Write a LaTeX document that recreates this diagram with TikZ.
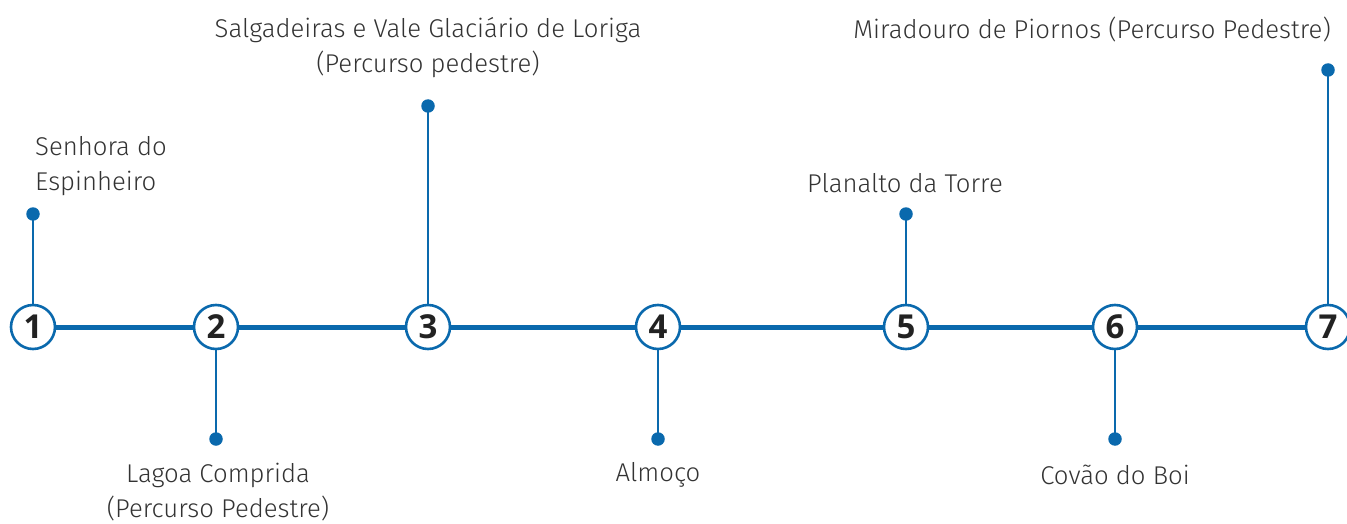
\documentclass[tikz,border=0pt]{standalone}
\usepackage{fontspec}
\setmainfont{Fira Sans Light}
\newfontfamily\numfont{Open Sans}
\definecolor{tlblue}{HTML}{0A69AD}
\definecolor{tltext}{HTML}{333333}
\definecolor{tlnum}{HTML}{222222}
\begin{document}
\begin{tikzpicture}[x=1pt,y=-1pt,
  stopcircle/.style={circle,draw=tlblue,line width=2.6pt,fill=white,minimum size=44pt,inner sep=0pt,font=\numfont\bfseries\fontsize{33}{33}\selectfont,text=tlnum},
  dotmark/.style={circle,fill=tlblue,minimum size=13.5pt,inner sep=0pt},
  mainline/.style={draw=tlblue,line width=5pt},
  stem/.style={draw=tlblue,line width=1.9pt},
  lbl/.style={font=\fontsize{25.7}{35}\selectfont,text=tltext,inner sep=0pt}]
\useasboundingbox (0,0) rectangle (1347,524);
\node[stopcircle] (c1) at (33,327) {1};
\node[stopcircle] (c2) at (216,327) {2};
\node[stopcircle] (c3) at (428,327) {3};
\node[stopcircle] (c4) at (658,327) {4};
\node[stopcircle] (c5) at (906,327) {5};
\node[stopcircle] (c6) at (1115,327) {6};
\node[stopcircle] (c7) at (1328,327) {7};
\foreach \a/\b in {c1/c2,c2/c3,c3/c4,c4/c5,c5/c6,c6/c7}
  \draw[mainline] (\a) -- (\b);
\node[dotmark] (d1) at (33,214) {};
\node[dotmark] (d2) at (216,439) {};
\node[dotmark] (d3) at (428,106) {};
\node[dotmark] (d4) at (658,439) {};
\node[dotmark] (d5) at (906,214) {};
\node[dotmark] (d6) at (1115,439) {};
\node[dotmark] (d7) at (1328,70) {};
\foreach \i in {1,...,7}
  \draw[stem] (d\i.center) -- (c\i);
\node[lbl,align=left,anchor=west] (t1) at (35,166) {Senhora do\\Espinheiro};
\node[lbl,align=center] (t2) at (218,492) {Lagoa Comprida\\(Percurso Pedestre)};
\node[lbl,align=center] (t3) at (428,48) {Salgadeiras e Vale Glaciário de Loriga\\(Percurso pedestre)};
\node[lbl] (t4) at (658,475) {Almoço};
\node[lbl] (t5) at (905,183) {Planalto da Torre};
\node[lbl] (t6) at (1115,475) {Covão do Boi};
\node[lbl,anchor=east] (t7) at (1331,30) {Miradouro de Piornos (Percurso Pedestre)};
\end{tikzpicture}
\end{document}
